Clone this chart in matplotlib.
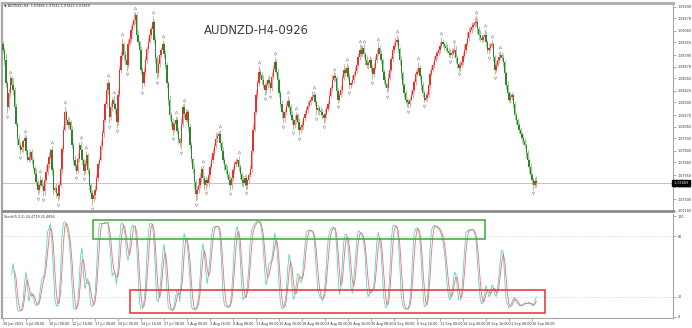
import numpy as np
import matplotlib
matplotlib.use("Agg")
import matplotlib.pyplot as plt
from matplotlib.patches import Rectangle

# ---------------- data ----------------
first_open = 1.0890
closes = [
    1.0884, 1.0874, 1.0850, 1.0825, 1.0840, 1.0855, 1.0848, 1.0843, 1.0825, 1.0808,
    1.0792, 1.0786, 1.0781, 1.0784, 1.0790, 1.0793, 1.0780, 1.0771, 1.0774, 1.0779,
    1.0770, 1.0762, 1.0756, 1.0748, 1.0740, 1.0745, 1.0750, 1.0744, 1.0738, 1.0750,
    1.0758, 1.0766, 1.0774, 1.0781, 1.0760, 1.0740, 1.0742, 1.0736, 1.0733, 1.0745,
    1.0761, 1.0782, 1.0802, 1.0820, 1.0812, 1.0807, 1.0810, 1.0802, 1.0786, 1.0771,
    1.0764, 1.0759, 1.0772, 1.0786, 1.0781, 1.0770, 1.0759, 1.0766, 1.0776, 1.0760,
    1.0745, 1.0736, 1.0730, 1.0734, 1.0740, 1.0752, 1.0766, 1.0771, 1.0785, 1.0798,
    1.0812, 1.0828, 1.0843, 1.0850, 1.0815, 1.0825, 1.0833, 1.0828, 1.0823, 1.0810,
    1.0838, 1.0864, 1.0878, 1.0890, 1.0879, 1.0874, 1.0869, 1.0890, 1.0896, 1.0905,
    1.0910, 1.0915, 1.0920, 1.0900, 1.0892, 1.0884, 1.0864, 1.0850, 1.0862, 1.0874,
    1.0885, 1.0893, 1.0900, 1.0906, 1.0913, 1.0895, 1.0876, 1.0860, 1.0870, 1.0879,
    1.0884, 1.0890, 1.0880, 1.0869, 1.0850, 1.0833, 1.0817, 1.0810, 1.0802, 1.0808,
    1.0812, 1.0800, 1.0792, 1.0788, 1.0808, 1.0825, 1.0818, 1.0812, 1.0820, 1.0805,
    1.0786, 1.0772, 1.0761, 1.0748, 1.0735, 1.0740, 1.0745, 1.0752, 1.0761, 1.0752,
    1.0745, 1.0750, 1.0747, 1.0755, 1.0763, 1.0771, 1.0778, 1.0785, 1.0792, 1.0795,
    1.0797, 1.0788, 1.0780, 1.0771, 1.0765, 1.0760, 1.0755, 1.0750, 1.0745, 1.0752,
    1.0760, 1.0766, 1.0768, 1.0771, 1.0763, 1.0756, 1.0750, 1.0747, 1.0752, 1.0745,
    1.0750, 1.0755, 1.0761, 1.0780, 1.0802, 1.0820, 1.0838, 1.0850, 1.0861, 1.0858,
    1.0853, 1.0848, 1.0843, 1.0848, 1.0853, 1.0850, 1.0845, 1.0856, 1.0865, 1.0872,
    1.0862, 1.0853, 1.0840, 1.0828, 1.0820, 1.0814, 1.0820, 1.0826, 1.0832, 1.0825,
    1.0817, 1.0812, 1.0807, 1.0812, 1.0817, 1.0810, 1.0802, 1.0805, 1.0807, 1.0814,
    1.0818, 1.0822, 1.0826, 1.0830, 1.0833, 1.0836, 1.0838, 1.0830, 1.0822, 1.0824,
    1.0821, 1.0820, 1.0817, 1.0814, 1.0818, 1.0823, 1.0828, 1.0837, 1.0845, 1.0853,
    1.0857, 1.0855, 1.0842, 1.0833, 1.0838, 1.0843, 1.0855, 1.0864, 1.0860, 1.0866,
    1.0856, 1.0848, 1.0850, 1.0853, 1.0858, 1.0863, 1.0869, 1.0877, 1.0884, 1.0880,
    1.0886, 1.0880, 1.0874, 1.0869, 1.0871, 1.0874, 1.0866, 1.0859, 1.0866, 1.0874,
    1.0880, 1.0886, 1.0880, 1.0874, 1.0862, 1.0853, 1.0849, 1.0845, 1.0855, 1.0864,
    1.0875, 1.0884, 1.0888, 1.0892, 1.0895, 1.0885, 1.0874, 1.0860, 1.0848, 1.0840,
    1.0833, 1.0830, 1.0828, 1.0833, 1.0838, 1.0843, 1.0851, 1.0859, 1.0862, 1.0866,
    1.0857, 1.0848, 1.0840, 1.0833, 1.0835, 1.0838, 1.0848, 1.0859, 1.0864, 1.0869,
    1.0874, 1.0878, 1.0881, 1.0884, 1.0888, 1.0892, 1.0890, 1.0888, 1.0886, 1.0883,
    1.0881, 1.0879, 1.0881, 1.0883, 1.0884, 1.0876, 1.0870, 1.0866, 1.0869, 1.0872,
    1.0878, 1.0884, 1.0890, 1.0897, 1.0903, 1.0905, 1.0908, 1.0910, 1.0912, 1.0913,
    1.0906, 1.0900, 1.0897, 1.0895, 1.0898, 1.0900, 1.0892, 1.0884, 1.0886, 1.0888,
    1.0890, 1.0877, 1.0864, 1.0869, 1.0874, 1.0877, 1.0879, 1.0876, 1.0872, 1.0860,
    1.0848, 1.0840, 1.0833, 1.0836, 1.0838, 1.0828, 1.0817, 1.0812, 1.0807, 1.0802,
    1.0797, 1.0793, 1.0790, 1.0786, 1.0778, 1.0771, 1.0763, 1.0755, 1.0750, 1.0745,
    1.07484, 1.07469,
]
upper_wick = [  # pips above the body
    4,3,6,2,5,3,2,7,3,4,2,5,3,6,2,4,3,2,5,3,
    3,4,2,6,3,2,5,3,4,2,6,3,5,2,4,3,2,5,3,4,
    5,3,4,6,2,3,5,2,4,3,5,2,6,3,4,2,3,5,4,2,
    3,2,4,3,5,4,2,3,6,4,5,3,7,4,2,5,3,4,2,5,
    6,4,5,7,3,4,2,6,4,5,3,8,4,3,5,2,4,3,5,4,
    3,5,4,3,6,2,4,3,5,4,3,5,2,4,3,2,5,3,4,2,
    4,3,5,2,6,3,4,5,3,2,4,3,2,5,3,4,2,5,3,4,
    3,4,2,5,3,4,5,3,6,4,3,5,2,4,3,2,5,3,4,2,
    4,3,5,2,4,3,2,5,3,4,2,3,4,5,6,4,5,3,7,4,
    3,5,2,4,3,5,2,6,4,5,3,4,2,3,5,2,4,3,5,2,
    3,4,2,5,3,2,4,3,5,2,4,3,5,4,3,6,4,2,3,4,
    2,4,3,2,5,3,4,5,3,6,4,3,2,4,3,5,4,6,3,5,
    3,4,2,5,3,4,5,4,6,5,3,4,2,5,3,4,2,3,5,4,
    5,6,3,4,2,3,4,2,5,4,3,5,4,6,5,3,2,4,3,2,
    3,2,4,3,5,4,3,5,4,6,3,2,4,3,5,4,3,5,4,3,
    4,5,3,4,5,6,4,3,5,4,3,4,5,3,6,4,3,2,4,3,
    4,5,3,6,5,4,5,3,6,7,4,3,5,4,3,6,4,3,5,4,
    5,3,2,4,3,5,4,3,4,2,3,4,2,5,3,2,4,3,2,3,
    3,2,4,3,2,3,2,4,3,2,5,5.8,
]
lower_wick = [  # pips below the body
    3,5,4,6,2,4,3,5,4,2,6,3,4,2,5,3,4,2,3,5,
    4,2,5,3,6,4,2,3,5,4,2,3,4,2,5,6,3,4,5,3,
    2,4,3,2,5,3,4,2,3,5,4,3,2,4,3,5,4,3,2,4,
    5,4,6,3,4,2,3,4,2,3,4,2,3,5,6,3,4,2,5,6,
    3,2,4,3,5,4,6,3,2,4,3,2,4,5,3,4,5,6,3,4,
    3,4,2,3,2,4,5,6,4,3,2,3,4,3,5,6,5,4,6,3,
    4,3,5,4,6,3,4,2,3,5,4,5,4,6,7,5,4,3,4,5,
    4,5,3,4,3,2,4,3,2,3,2,4,3,4,5,4,3,5,6,4,
    3,4,3,2,4,5,6,4,3,5,4,3,2,3,2,3,2,4,3,4,
    4,3,5,4,3,4,5,3,2,3,4,5,4,3,6,5,4,3,2,4,
    5,4,5,3,4,5,6,4,3,4,3,2,3,2,3,2,3,4,5,4,
    4,3,4,5,4,3,2,3,2,3,2,3,5,4,3,2,3,2,3,2,
    3,4,3,2,3,2,3,2,3,2,3,4,5,3,4,3,4,5,3,2,
    3,2,3,4,5,4,3,5,3,2,3,2,3,2,3,4,5,6,4,5,
    4,5,4,3,2,3,2,3,2,3,4,5,4,3,2,3,2,3,2,3,
    3,2,3,2,3,2,3,4,3,2,4,3,3,2,3,5,4,3,3,2,
    3,2,3,2,3,2,3,2,2,3,4,5,3,2,3,4,5,3,4,3,
    2,4,5,3,2,3,2,3,4,5,4,5,3,4,3,4,5,4,5,4,
    4,5,4,3,5,4,6,5,4,5,3,4.6,
]
price_ticks = [1.09290, 1.09170, 1.09040, 1.08920, 1.08790, 1.08670, 1.08550,
               1.08420, 1.08300, 1.08170, 1.08050, 1.07930, 1.07800, 1.07680,
               1.07550, 1.07430, 1.07300, 1.07180]
date_labels = ["30 Jun 2023", "5 Jul 08:00", "10 Jul 00:00", "12 Jul 16:00",
               "17 Jul 08:00", "20 Jul 00:00", "24 Jul 16:00", "27 Jul 08:00",
               "1 Aug 00:00", "3 Aug 16:00", "8 Aug 08:00", "11 Aug 00:00",
               "15 Aug 16:00", "18 Aug 08:00", "23 Aug 00:00", "25 Aug 16:00",
               "30 Aug 08:00", "4 Sep 00:00", "6 Sep 16:00", "11 Sep 08:00",
               "14 Sep 00:00", "18 Sep 16:00", "21 Sep 08:00", "26 Sep 00:00"]
bars_per_label = 16
stoch_levels = [20, 80]
stoch_ticks = [0, 20, 80, 100]
title_text = "AUDNZD-H4-0926"
symbol_text = "AUDNZD,H4"
stoch_text = "Stoch(5,3,3) 24.4719 25.4856"

assert len(closes) == len(upper_wick) == len(lower_wick), (len(closes), len(upper_wick), len(lower_wick))

# ---------------- derived OHLC ----------------
c = np.array(closes)
o = np.concatenate([[first_open], c[:-1]])
pip = 0.0001
h = np.maximum(o, c) + np.array(upper_wick) * pip
l = np.minimum(o, c) - np.array(lower_wick) * pip
N = len(c)
x = np.arange(N)

# Stochastic (5,3,3) as in MT4
kp, slow, dp = 5, 3, 3
ll = np.array([l[max(0, i - kp + 1):i + 1].min() for i in range(N)])
hh = np.array([h[max(0, i - kp + 1):i + 1].max() for i in range(N)])
num = c - ll
den = hh - ll
main = np.full(N, np.nan)
for i in range(kp - 1 + slow - 1, N):
    s_num = num[i - slow + 1:i + 1].sum()
    s_den = den[i - slow + 1:i + 1].sum()
    main[i] = 100.0 * s_num / s_den if s_den > 0 else 100.0
sig = np.full(N, np.nan)
for i in range(N):
    w = main[max(0, i - dp + 1):i + 1]
    if len(w) == dp and not np.isnan(w).any():
        sig[i] = w.mean()

# ---------------- figure layout ----------------
W, H = 692, 328
fig = plt.figure(figsize=(W / 100, H / 100), dpi=100)
fig.patch.set_facecolor("white")

def fy(py):
    return 1 - py / H

SMALL = 2.4
px_per_bar = 1.4375
x0_px = 3.0
left_px, right_px = 2, 673
xlim = ((left_px - x0_px) / px_per_bar, (right_px - x0_px) / px_per_bar)

ax = fig.add_axes([left_px / W, fy(211), (right_px - left_px) / W, 208 / H])
ax2 = fig.add_axes([left_px / W, fy(318), (right_px - left_px) / W, 104 / H])

# price scale: 1.09290 at y=6.7px, 1.07180 at y=211.3px
ppp = (1.09290 - 1.07180) / (211.3 - 6.7)
ax.set_ylim(1.07180 - 0.2 * ppp, 1.09290 + 3.7 * ppp)
ax.set_xlim(*xlim)
ax2.set_xlim(*xlim)
ax2.set_ylim(-1, 102)

for a in (ax, ax2):
    a.set_facecolor("white")
    for s in a.spines.values():
        s.set_color("#a6a6a6")
        s.set_linewidth(0.8)
ax.spines["top"].set_linewidth(2.2)
ax.spines["top"].set_color("#b0b0b0")
ax.spines["bottom"].set_linewidth(2.0)
ax.spines["bottom"].set_color("#8c8c8c")
ax.spines["left"].set_linewidth(1.6)
ax2.spines["left"].set_linewidth(1.6)
ax2.spines["top"].set_visible(False)

# ---------------- candles ----------------
bull = c >= o
bull_body, bear_body = "#e5302c", "#2a852a"
bull_wick, bear_wick = "#f2a0a0", "#98cc98"
ax.vlines(x[bull], l[bull], h[bull], colors=bull_wick, lw=0.7, zorder=2)
ax.vlines(x[~bull], l[~bull], h[~bull], colors=bear_wick, lw=0.7, zorder=2)
body_lo = np.minimum(o, c)
body_h = np.maximum(np.abs(c - o), 0.3 * pip)
ax.bar(x[bull], body_h[bull], bottom=body_lo[bull], width=0.9,
       color=bull_body, linewidth=0, zorder=3)
ax.bar(x[~bull], body_h[~bull], bottom=body_lo[~bull], width=0.9,
       color=bear_body, linewidth=0, zorder=3)

# fractals
up_idx = [i for i in range(2, N - 2)
          if h[i] > h[i - 1] and h[i] > h[i - 2] and h[i] >= h[i + 1] and h[i] >= h[i + 2]]
dn_idx = [i for i in range(2, N - 2)
          if l[i] < l[i - 1] and l[i] < l[i - 2] and l[i] <= l[i + 1] and l[i] <= l[i + 2]]
ax.plot(np.array(up_idx), h[up_idx] + 4 * pip, ls="none", marker="^", ms=2.0,
        mfc="none", mec="#9a9a9a", mew=0.4, zorder=4)
ax.plot(np.array(dn_idx), l[dn_idx] - 4 * pip, ls="none", marker="v", ms=2.0,
        mfc="none", mec="#9a9a9a", mew=0.4, zorder=4)

# current price line + label
ax.axhline(c[-1], color="#c4c4c4", lw=0.7, zorder=1)
ax.yaxis.tick_right()
ax.set_yticks(price_ticks)
ax.set_yticklabels([f"{v:.5f}" for v in price_ticks])
ax.tick_params(axis="y", labelsize=SMALL, colors="#8a8a8a", labelcolor="#333333",
               length=2, width=0.5, pad=1.2)
ax.set_xticks([])
ax.text(1.0, c[-1], f" {c[-1]:.5f} ", transform=ax.get_yaxis_transform(),
        fontsize=SMALL, color="white", va="center", ha="left", zorder=10,
        bbox=dict(boxstyle="square,pad=0.2", fc="black", ec="black"),
        clip_on=False)

# ---------------- stochastic ----------------
ax2.plot(x, main, color="#5fcfc2", lw=0.6, zorder=3)
ax2.plot(x, sig, color="#e87070", lw=0.6, zorder=3)
for lv in stoch_levels:
    ax2.axhline(lv, color="#bdbdbd", lw=0.5, ls=(0, (1, 2)), zorder=1)
ax2.yaxis.tick_right()
ax2.set_yticks(stoch_ticks)
ax2.set_yticklabels([str(v) for v in stoch_ticks])
ax2.tick_params(axis="y", labelsize=SMALL, colors="#8a8a8a", labelcolor="#333333",
                length=2, width=0.5, pad=1.2)
ax2.set_xticks(np.arange(len(date_labels)) * bars_per_label)
ax2.set_xticklabels(date_labels)
ax2.tick_params(axis="x", labelsize=SMALL, colors="#8a8a8a", labelcolor="#333333",
                length=2, width=0.5, pad=1.0)
for t in ax2.get_xticklabels():
    t.set_horizontalalignment("left")

# highlight boxes
ax2.add_patch(Rectangle((62.4, 77.5), 335.3 - 62.4, 96.5 - 77.5, fill=False,
                        ec="#3aa83a", lw=1.1, zorder=5))
ax2.add_patch(Rectangle((88.3, 4.3), 377.0 - 88.3, 26.5 - 4.3, fill=False,
                        ec="#e5302c", lw=1.1, zorder=5))

# ---------------- texts ----------------
fig.text(204 / W, fy(30), title_text, fontsize=8.4, color="#3d3d3d",
         ha="left", va="center")
fig.text(4 / W, fy(6), "\u25bc " + symbol_text + "  " +
         f"{o[-1]:.5f} {h[-1]:.5f} {l[-1]:.5f} {c[-1]:.5f}",
         fontsize=SMALL, color="#333333", ha="left", va="center")
fig.text(4 / W, fy(217), stoch_text, fontsize=SMALL, color="#333333",
         ha="left", va="center")

fig.savefig("out.png", dpi=100, facecolor="white")
